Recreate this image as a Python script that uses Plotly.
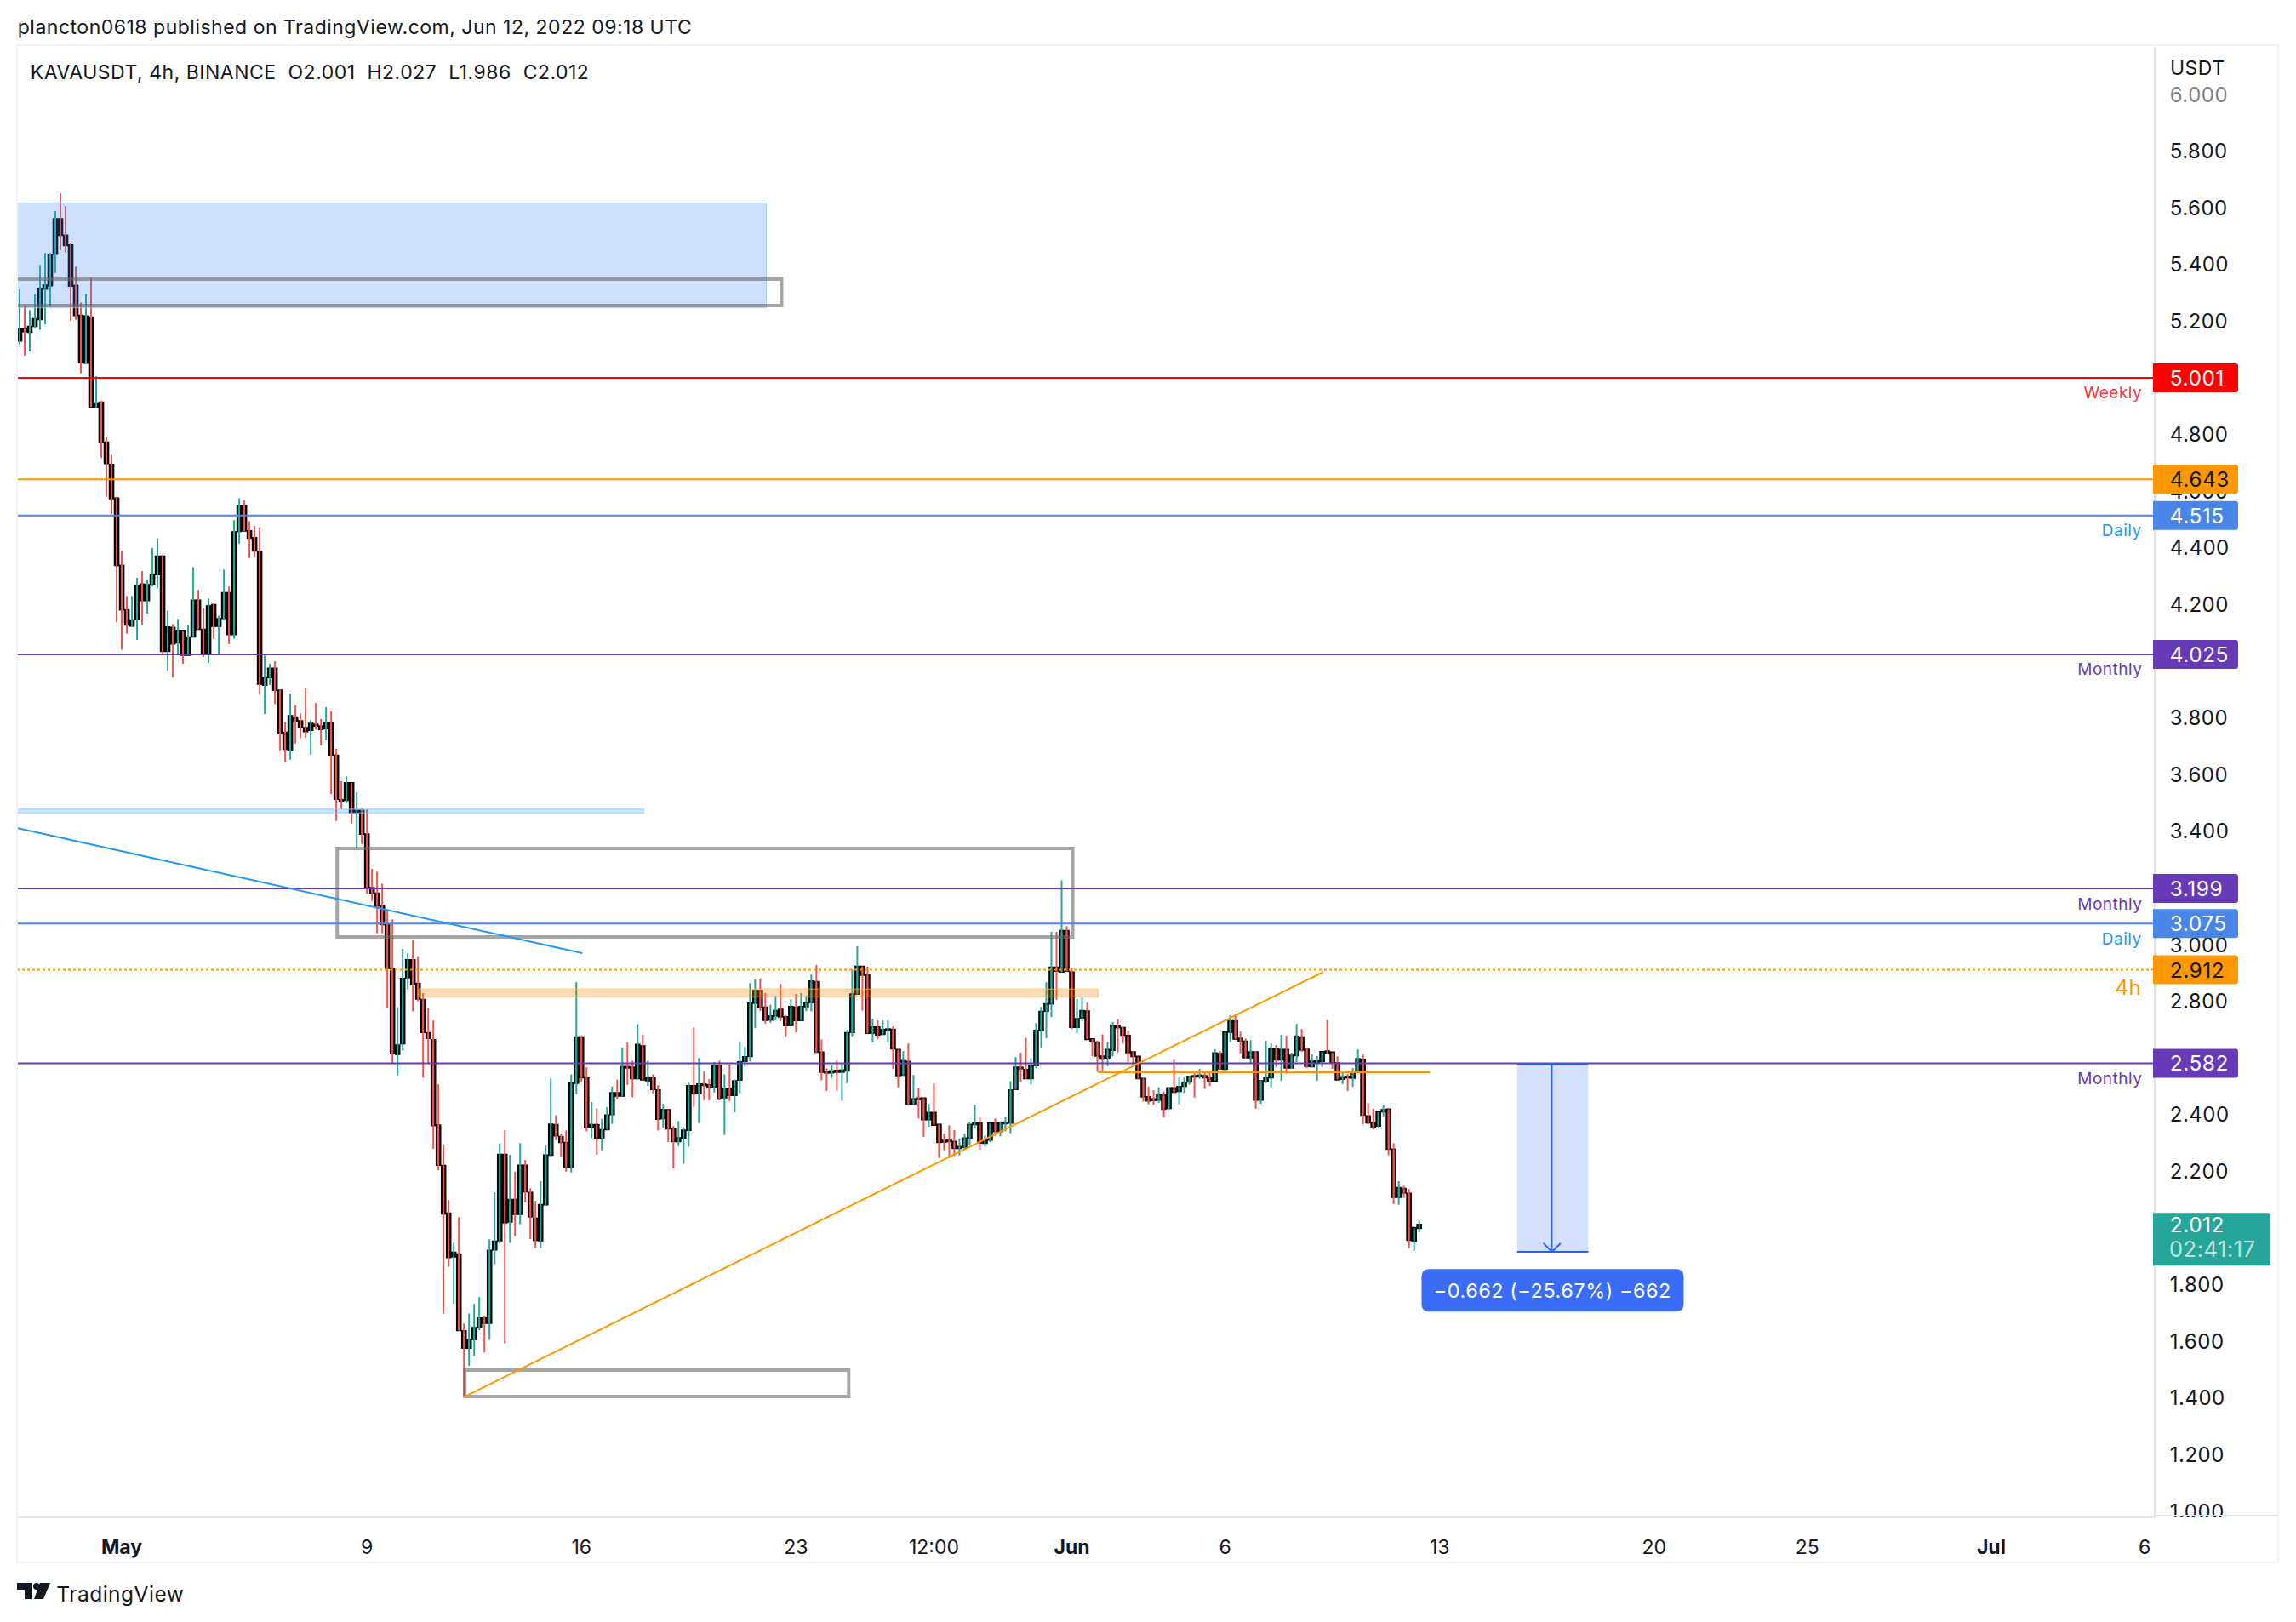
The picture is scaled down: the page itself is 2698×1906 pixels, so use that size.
import plotly.graph_objects as go
import pandas as pd

opens = [5.077,5.132,5.172,5.163,5.184,5.208,5.315,5.327,5.438,5.561,
5.503,5.469,5.326,5.220,5.054,5.214,4.898,4.914,4.773,4.694,
4.575,4.338,4.181,4.126,4.150,4.272,4.216,4.273,4.308,4.370,
4.037,4.119,4.067,4.108,4.023,4.088,4.215,4.112,4.028,4.199,
4.125,4.153,4.241,4.096,4.460,4.549,4.460,4.436,4.387,3.917,
3.944,3.975,3.897,3.749,3.688,3.803,3.789,3.765,3.758,3.777,
3.771,3.764,3.783,3.668,3.511,3.511,3.571,3.468,3.473,3.390,
3.201,3.181,3.138,3.070,2.913,2.615,2.652,2.885,2.946,2.863,
2.806,2.689,2.664,2.363,2.220,2.052,1.900,1.908,1.637,1.578,
1.608,1.651,1.682,1.666,1.925,1.957,2.259,2.023,2.100,2.050,
2.221,2.125,2.034,1.957,2.084,2.259,2.364,2.322,2.301,2.217,
2.513,2.674,2.529,2.356,2.364,2.317,2.349,2.402,2.477,2.468,
2.569,2.567,2.529,2.642,2.522,2.532,2.487,2.388,2.417,2.350,
2.307,2.320,2.347,2.502,2.476,2.508,2.505,2.497,2.572,2.462,
2.493,2.470,2.524,2.590,2.607,2.795,2.837,2.779,2.736,2.750,
2.771,2.745,2.717,2.779,2.734,2.783,2.797,2.869,2.620,2.552,
2.550,2.556,2.552,2.556,2.692,2.827,2.923,2.894,2.689,2.709,
2.685,2.699,2.701,2.629,2.541,2.587,2.439,2.458,2.458,2.384,
2.407,2.365,2.309,2.310,2.305,2.283,2.287,2.319,2.367,2.370,
2.301,2.312,2.370,2.342,2.370,2.372,2.491,2.567,2.559,2.529,
2.575,2.699,2.767,2.793,2.920,2.905,3.049,2.903,2.710,2.743,
2.765,2.667,2.656,2.606,2.602,2.629,2.715,2.707,2.679,2.621,
2.605,2.527,2.463,2.455,2.453,2.469,2.424,2.494,2.484,2.502,
2.517,2.537,2.537,2.537,2.530,2.520,2.615,2.562,2.693,2.731,
2.669,2.659,2.603,2.621,2.453,2.519,2.532,2.632,2.595,2.629,
2.567,2.610,2.674,2.630,2.571,2.587,2.589,2.624,2.620,2.583,
2.527,2.535,2.531,2.552,2.594,2.395,2.372,2.362,2.412,2.419,
2.278,2.110,2.139,2.122,1.956,2.001]

closes = [5.130,5.172,5.165,5.181,5.208,5.315,5.327,5.436,5.561,5.505,
5.469,5.326,5.222,5.056,5.218,4.898,4.911,4.776,4.700,4.576,
4.340,4.183,4.130,4.145,4.266,4.216,4.270,4.304,4.370,4.037,
4.120,4.063,4.108,4.023,4.085,4.215,4.115,4.028,4.195,4.125,
4.150,4.241,4.096,4.456,4.549,4.462,4.436,4.391,3.921,3.942,
3.975,3.899,3.749,3.691,3.807,3.791,3.769,3.754,3.780,3.773,
3.761,3.783,3.671,3.515,3.506,3.571,3.467,3.473,3.392,3.205,
3.184,3.138,3.073,2.918,2.617,2.645,2.880,2.946,2.863,2.810,
2.692,2.671,2.363,2.224,2.052,1.898,1.914,1.640,1.578,1.605,
1.648,1.682,1.666,1.921,1.953,2.259,2.020,2.100,2.050,2.221,
2.130,2.041,1.959,2.082,2.257,2.366,2.327,2.304,2.217,2.511,
2.674,2.532,2.356,2.364,2.320,2.346,2.398,2.477,2.468,2.569,
2.567,2.529,2.647,2.525,2.532,2.491,2.386,2.418,2.352,2.307,
2.318,2.345,2.502,2.476,2.508,2.505,2.497,2.572,2.457,2.493,
2.470,2.519,2.586,2.604,2.793,2.837,2.781,2.735,2.748,2.767,
2.747,2.716,2.781,2.734,2.781,2.794,2.871,2.622,2.552,2.549,
2.554,2.552,2.557,2.689,2.825,2.923,2.894,2.689,2.709,2.683,
2.700,2.702,2.634,2.540,2.590,2.439,2.455,2.455,2.384,2.407,
2.365,2.304,2.305,2.307,2.283,2.287,2.317,2.365,2.370,2.302,
2.310,2.370,2.342,2.370,2.373,2.487,2.567,2.564,2.529,2.572,
2.697,2.764,2.791,2.920,2.908,3.049,2.908,2.710,2.738,2.767,
2.667,2.659,2.609,2.598,2.629,2.712,2.709,2.682,2.621,2.607,
2.529,2.465,2.450,2.452,2.469,2.421,2.494,2.481,2.499,2.514,
2.535,2.535,2.539,2.532,2.521,2.617,2.564,2.692,2.731,2.669,
2.659,2.603,2.621,2.453,2.519,2.530,2.632,2.595,2.629,2.567,
2.609,2.677,2.630,2.573,2.588,2.589,2.622,2.620,2.585,2.525,
2.533,2.532,2.551,2.597,2.400,2.373,2.359,2.410,2.417,2.280,
2.110,2.142,2.125,1.959,2.001,2.012]

highs = [5.163,5.313,5.256,5.240,5.295,5.399,5.442,5.442,5.589,5.652,
5.607,5.478,5.393,5.267,5.297,5.353,5.006,4.918,4.792,4.729,
4.581,4.391,4.231,4.231,4.295,4.319,4.290,4.400,4.433,4.376,
4.180,4.132,4.150,4.108,4.128,4.333,4.252,4.187,4.222,4.205,
4.162,4.324,4.264,4.499,4.576,4.568,4.495,4.478,4.474,4.021,
3.992,4.001,3.901,3.785,3.887,3.845,3.817,3.905,3.794,3.854,
3.797,3.839,3.824,3.692,3.578,3.595,3.572,3.538,3.483,3.478,
3.268,3.258,3.216,3.118,3.090,2.780,2.986,2.970,3.019,2.959,
2.830,2.776,2.733,2.508,2.294,2.100,1.949,2.039,1.664,1.699,
1.733,1.757,1.691,1.961,2.127,2.299,2.346,2.259,2.200,2.300,
2.241,2.141,2.097,2.166,2.292,2.529,2.399,2.334,2.345,2.543,
2.868,2.680,2.568,2.445,2.423,2.386,2.427,2.500,2.524,2.638,
2.655,2.591,2.720,2.683,2.591,2.543,2.505,2.438,2.418,2.361,
2.378,2.356,2.513,2.709,2.601,2.554,2.526,2.586,2.591,2.543,
2.578,2.525,2.659,2.640,2.865,2.878,2.881,2.830,2.788,2.820,
2.862,2.752,2.808,2.827,2.830,2.820,2.895,2.929,2.666,2.564,
2.574,2.592,2.582,2.700,2.913,2.995,2.924,2.923,2.739,2.733,
2.733,2.733,2.712,2.630,2.625,2.652,2.541,2.495,2.459,2.439,
2.511,2.366,2.334,2.363,2.346,2.317,2.334,2.374,2.435,2.394,
2.327,2.370,2.387,2.377,2.394,2.519,2.604,2.620,2.672,2.600,
2.724,2.781,2.868,3.046,3.046,3.228,3.066,2.918,2.809,2.815,
2.796,2.667,2.662,2.684,2.657,2.727,2.737,2.712,2.697,2.624,
2.606,2.531,2.500,2.487,2.497,2.482,2.497,2.595,2.532,2.532,
2.539,2.547,2.562,2.552,2.547,2.632,2.625,2.693,2.751,2.758,
2.694,2.669,2.664,2.625,2.522,2.661,2.652,2.647,2.682,2.680,
2.619,2.721,2.703,2.637,2.613,2.607,2.622,2.734,2.620,2.607,
2.555,2.544,2.565,2.631,2.613,2.442,2.422,2.410,2.436,2.420,
2.300,2.166,2.150,2.139,2.001,2.027]

lows = [5.003,5.119,5.080,5.094,5.175,5.170,5.190,5.251,5.371,5.452,
5.444,5.202,5.206,5.017,5.049,4.898,4.895,4.718,4.581,4.520,
4.139,4.041,4.098,4.124,4.076,4.130,4.169,4.265,4.259,4.025,
3.968,3.944,4.022,3.992,4.023,4.088,4.113,4.016,3.995,4.080,
4.025,4.147,4.061,4.080,4.416,4.460,4.365,4.371,3.883,3.815,
3.917,3.849,3.686,3.643,3.653,3.710,3.729,3.731,3.671,3.759,
3.703,3.723,3.532,3.437,3.479,3.500,3.428,3.341,3.356,3.180,
3.155,3.041,3.041,2.778,2.583,2.539,2.627,2.843,2.765,2.801,
2.531,2.582,2.280,2.205,1.698,1.864,1.733,1.638,1.406,1.514,
1.549,1.640,1.561,1.606,1.873,1.946,1.594,1.948,1.972,2.014,
2.091,1.962,1.930,1.930,2.080,2.254,2.310,2.251,2.200,2.197,
2.473,2.514,2.342,2.318,2.259,2.275,2.348,2.368,2.455,2.466,
2.506,2.462,2.525,2.522,2.502,2.476,2.345,2.356,2.304,2.211,
2.290,2.227,2.288,2.428,2.371,2.451,2.451,2.479,2.452,2.329,
2.449,2.409,2.476,2.570,2.589,2.706,2.766,2.722,2.725,2.734,
2.731,2.677,2.715,2.691,2.732,2.766,2.765,2.620,2.522,2.485,
2.530,2.485,2.449,2.512,2.677,2.825,2.768,2.687,2.656,2.667,
2.682,2.656,2.562,2.497,2.539,2.434,2.435,2.387,2.322,2.359,
2.363,2.248,2.275,2.248,2.255,2.257,2.277,2.294,2.352,2.277,
2.287,2.304,2.327,2.324,2.342,2.335,2.489,2.515,2.527,2.507,
2.565,2.635,2.670,2.745,2.806,2.903,2.906,2.703,2.688,2.731,
2.667,2.607,2.552,2.557,2.572,2.607,2.620,2.652,2.587,2.577,
2.527,2.447,2.437,2.435,2.442,2.392,2.419,2.477,2.437,2.477,
2.507,2.461,2.527,2.492,2.502,2.520,2.562,2.554,2.659,2.667,
2.617,2.597,2.580,2.422,2.439,2.512,2.497,2.569,2.520,2.552,
2.562,2.585,2.622,2.565,2.567,2.520,2.569,2.617,2.562,2.525,
2.509,2.484,2.499,2.551,2.367,2.367,2.349,2.352,2.395,2.257,
2.085,2.083,2.107,1.929,1.920,1.986]

first_bar = "2022-04-27 12:00"
x_range = ["2022-04-27 14:00", "2022-07-06 07:20"]
y_range = [0.9828, 6.169]

y_ticks = [1.0,1.2,1.4,1.6,1.8,2.2,2.4,2.8,3.0,3.4,3.6,3.8,4.0,4.2,4.4,4.6,4.8,5.2,5.4,5.6,5.8,6.0]
x_ticks = ["2022-05-01","2022-05-09","2022-05-16","2022-05-23","2022-05-27 12:00","2022-06-01","2022-06-06","2022-06-13","2022-06-20","2022-06-25","2022-07-01","2022-07-06"]
x_labels = ["<b>May</b>","9","16","23","12:00","<b>Jun</b>","6","13","20","25","<b>Jul</b>","6"]

level_prices = [5.001,4.643,4.515,4.025,3.199,3.075,2.912,2.582]
level_colors = ["#ff0000","#ff9800","#4a86e8","#673ab7","#673ab7","#4a86e8","#ff9800","#673ab7"]
level_dash = ["solid","solid","solid","solid","solid","solid","dot","solid"]
level_text = ["#ffffff","#131722","#ffffff","#ffffff","#ffffff","#ffffff","#131722","#ffffff"]
level_names = ["Weekly","","Daily","Monthly","Monthly","Daily","4h","Monthly"]
name_colors = ["#f23645","","#2196f3","#673ab7","#673ab7","#2196f3","#ff9800","#673ab7"]

INK = "#131722"
FONT = "Inter"
GREEN, RED = "#26a69a", "#ef5350"
GREY = "rgba(105,105,105,0.6)"

times = pd.date_range(first_bar, periods=len(closes), freq="4h")

def xp(px):
    return (px - 20) / 2511
def yp(py):
    return 1 - (py - 55) / 1727

fig = go.Figure()

for color, test in ((GREEN, True), (RED, False)):
    wx, wy = [], []
    for t, o, c, h, l in zip(times, opens, closes, highs, lows):
        if (c >= o) == test:
            wx += [t, t, None]
            wy += [l, h, None]
    fig.add_trace(go.Scatter(x=wx, y=wy, mode="lines", line=dict(color=color, width=2), hoverinfo="skip"))

fig.add_trace(go.Bar(
    x=times,
    y=[abs(c - o) for o, c in zip(opens, closes)],
    base=[min(o, c) for o, c in zip(opens, closes)],
    width=4 * 3600 * 1000 * 0.7,
    marker=dict(color=[GREEN if c >= o else RED for o, c in zip(opens, closes)],
                line=dict(color="#000000", width=2.4)),
    hoverinfo="skip"))

fig.update_layout(
    width=2698, height=1906, autosize=False,
    margin=dict(l=20, r=167, t=55, b=124, pad=0),
    paper_bgcolor="#ffffff", plot_bgcolor="#ffffff",
    showlegend=False, barmode="overlay",
    font=dict(family=FONT, color=INK, size=23),
    xaxis=dict(type="date", range=x_range, tickmode="array", tickvals=x_ticks, ticktext=x_labels,
               showgrid=False, zeroline=False, showline=True, linecolor="#e0e3eb", linewidth=2,
               ticks="outside", ticklen=14, tickcolor="rgba(0,0,0,0)", tickangle=0,
               rangeslider=dict(visible=False), tickfont=dict(family=FONT, size=23, color=INK)),
    yaxis=dict(side="right", range=y_range, tickmode="array", tickvals=y_ticks,
               ticktext=[f"{v:.3f}" for v in y_ticks],
               showgrid=False, zeroline=False, showline=True, linecolor="#e0e3eb", linewidth=2,
               ticks="outside", ticklen=12, tickcolor="rgba(0,0,0,0)",
               tickfont=dict(family=FONT, size=24, color=INK)),
)

def rect(x0, x1, y0, y1, fill=None, line=None, width=0):
    fig.add_shape(type="rect", xref="x", yref="y", x0=x0, x1=x1, y0=y0, y1=y1, layer="above",
                  fillcolor=fill if fill else "rgba(0,0,0,0)",
                  line=dict(color=line if line else "rgba(0,0,0,0)", width=width))

def seg(x0, x1, y0, y1, color, width=2, dash="solid"):
    fig.add_shape(type="line", xref="x", yref="y", x0=x0, x1=x1, y0=y0, y1=y1, layer="above",
                  line=dict(color=color, width=width, dash=dash))

# zones and drawings
rect("2022-04-20", "2022-05-22 00:45", 5.248, 5.618, "rgba(66,133,244,0.26)", "rgba(144,202,249,0.7)", 1)
rect("2022-04-20", "2022-05-22 12:45", 5.256, 5.349, None, GREY, 4)
rect("2022-04-20", "2022-05-18 00:40", 3.465, 3.479, "rgba(33,150,243,0.25)", "rgba(144,202,249,0.6)", 1.5)
rect("2022-05-08 00:43", "2022-06-01 00:43", 3.028, 3.340, None, GREY, 4)
rect("2022-05-10 16:40", "2022-06-01 20:38", 2.816, 2.844, "rgba(245,124,0,0.28)", "rgba(255,183,77,0.5)", 1.5)
rect("2022-05-12 04:40", "2022-05-24 17:17", 1.406, 1.499, None, GREY, 4)

for p, col, d in zip(level_prices, level_colors, level_dash):
    fig.add_shape(type="line", xref="paper", yref="y", x0=0, x1=1, y0=p, y1=p, layer="above",
                  line=dict(color=col, width=2, dash=d))

seg("2022-04-27 14:00", "2022-05-16 00:40", 3.412, 2.971, "#2196f3")
seg("2022-05-12 04:40", "2022-06-09 04:48", 1.406, 2.904, "#ff9800")
seg("2022-06-01 20:38", "2022-06-12 16:34", 2.551, 2.551, "#ff9800", 2.5)

# price-range measure
rect("2022-06-15 12:43", "2022-06-17 20:24", 1.917, 2.579, "rgba(41,98,255,0.2)")
seg("2022-06-15 12:43", "2022-06-17 20:24", 2.579, 2.579, "#2962ff")
seg("2022-06-15 12:43", "2022-06-17 20:24", 1.917, 1.917, "#2962ff")
seg("2022-06-16 15:50", "2022-06-16 15:50", 2.579, 1.917, "#2962ff")
seg("2022-06-16 09:22", "2022-06-16 15:50", 1.947, 1.917, "#2962ff")
seg("2022-06-16 22:48", "2022-06-16 15:50", 1.947, 1.917, "#2962ff")

def rounded(x0, x1, y0, y1, r_left, r_right):
    return (f"M {x0+r_left} {y0} L {x1-r_right} {y0} Q {x1} {y0} {x1} {y0+r_right} "
            f"L {x1} {y1-r_right} Q {x1} {y1} {x1-r_right} {y1} L {x0+r_left} {y1} "
            f"Q {x0} {y1} {x0} {y1-r_left} L {x0} {y0+r_left} Q {x0} {y0} {x0+r_left} {y0} Z")

# measure label
fig.add_shape(type="path", xref="x", yref="y", xsizemode="pixel", ysizemode="pixel",
              xanchor="2022-06-16 16:30", yanchor=1.781, path=rounded(-154, 154, -25, 25, 9, 9),
              fillcolor="#3a6cf8", line=dict(width=0), layer="above")
fig.add_annotation(x="2022-06-16 16:30", y=1.781, xref="x", yref="y", showarrow=False,
                   text="\u22120.662 (\u221225.67%) \u2212662", font=dict(family=FONT, size=23.5, color="#ffffff"))

# price tags
for p, col, tc, nm, nc in zip(level_prices, level_colors, level_text, level_names, name_colors):
    fig.add_shape(type="path", xref="paper", yref="y", xsizemode="pixel", ysizemode="pixel",
                  xanchor=1, yanchor=p, path=rounded(-1, 99, -17, 17, 0, 3),
                  fillcolor=col, line=dict(width=0), layer="above")
    fig.add_annotation(x=xp(2549), y=p, xref="paper", yref="y", xanchor="left", showarrow=False,
                       text=f"{p:.3f}", font=dict(family=FONT, size=24.5, color=tc))
    if nm:
        big = nm == "4h"
        fig.add_annotation(x=xp(2518), y=p, xref="paper", yref="y", xanchor="right", showarrow=False,
                           yshift=-21 if big else -18, text=nm,
                           font=dict(family=FONT, size=24 if big else 19, color=nc))

# last price tag
last = closes[-1]
fig.add_shape(type="path", xref="paper", yref="y", xsizemode="pixel", ysizemode="pixel",
              xanchor=1, yanchor=last, path=rounded(-1, 137, -48, 14, 0, 3),
              fillcolor=GREEN, line=dict(width=0), layer="above")
fig.add_annotation(x=xp(2549), y=last, xref="paper", yref="y", xanchor="left", showarrow=False,
                   text=f"{last:.3f}", font=dict(family=FONT, size=24.5, color="#ffffff"))
fig.add_annotation(x=xp(2549), y=last, xref="paper", yref="y", xanchor="left", showarrow=False, yshift=-28,
                   text="02:41:17", font=dict(family=FONT, size=25.5, color="rgba(255,255,255,0.7)"))

# chrome
fig.add_shape(type="rect", xref="paper", yref="paper", x0=xp(20), x1=xp(2677), y0=yp(1836), y1=yp(53),
              line=dict(color="#f0f3fa", width=2), fillcolor="rgba(0,0,0,0)", layer="above")
fig.add_shape(type="line", xref="paper", yref="paper", x0=xp(2531), x1=xp(2677), y0=yp(1781), y1=yp(1781),
              line=dict(color="#e0e3eb", width=2), layer="above")
fig.add_shape(type="rect", xref="paper", yref="paper", x0=xp(2533), x1=xp(2650), y0=yp(1795), y1=yp(1783),
              fillcolor="#ffffff", line=dict(width=0), layer="above")
fig.add_shape(type="rect", xref="paper", yref="paper", x0=xp(2533), x1=xp(2650), y0=yp(122), y1=yp(100),
              fillcolor="rgba(255,255,255,0.45)", line=dict(width=0), layer="above")

def label(px, py, text, size=23, color=INK):
    fig.add_annotation(x=xp(px), y=yp(py), xref="paper", yref="paper", xanchor="left", yanchor="middle",
                       showarrow=False, text=text, font=dict(family=FONT, size=size, color=color))

label(2549, 80, "USDT")
label(35, 32, "plancton0618 published on TradingView.com, Jun 12, 2022 09:18 UTC")
label(47, 85, "KAVAUSDT, 4h, BINANCE&nbsp;&nbsp;O2.001&nbsp;&nbsp;H2.027&nbsp;&nbsp;L1.986&nbsp;&nbsp;C2.012")
label(67, 1873, "TradingView", 24.5)

# logo
def poly(pts):
    return "M " + " L ".join(f"{xp(a)} {yp(b)}" for a, b in pts) + " Z"
for pts in ([(20,1860),(38,1860),(38,1879),(29,1879),(29,1868),(20,1868)],
            [(47,1860),(59,1860),(51,1879),(40,1879)]):
    fig.add_shape(type="path", xref="paper", yref="paper", path=poly(pts), fillcolor=INK, line=dict(width=0), layer="above")
fig.add_shape(type="circle", xref="paper", yref="paper", x0=xp(39), x1=xp(47), y0=yp(1868), y1=yp(1860),
              fillcolor=INK, line=dict(width=0), layer="above")

fig.write_html("out.html", config=dict(displayModeBar=False),
               post_script=("document.body.style.margin='0';document.documentElement.style.overflow='hidden';"
                            "var s=document.createElement('style');"
                            "s.textContent='svg text{letter-spacing:.5px;font-variant-numeric:tabular-nums}"
                            " .xtick text{letter-spacing:0}';"
                            "document.head.appendChild(s);"))
